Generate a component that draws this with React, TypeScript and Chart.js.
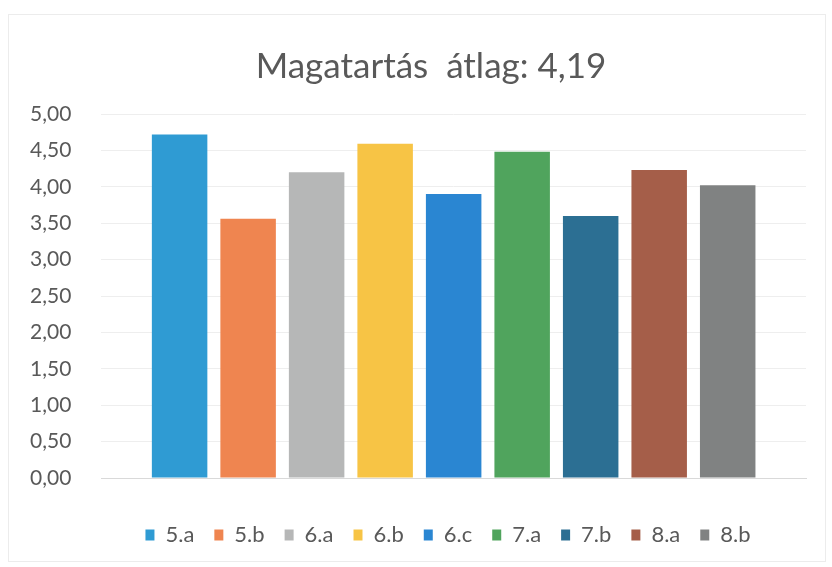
import React, { useEffect, useRef } from "react";
import { Chart, registerables } from "chart.js";

Chart.register(...registerables);

const TITLE = "Magatartás  átlag: 4,19";
const CLASSES = ["5.a", "5.b", "6.a", "6.b", "6.c", "7.a", "7.b", "8.a", "8.b"];
const VALUES = [4.72, 3.56, 4.2, 4.59, 3.9, 4.48, 3.6, 4.23, 4.02];
const COLORS = [
  "#2f9bd3",
  "#ef8550",
  "#b6b7b7",
  "#f7c445",
  "#2a86d2",
  "#50a45d",
  "#2c6f93",
  "#a55e49",
  "#808282",
];
const Y_MIN = 0;
const Y_MAX = 5;
const Y_STEP = 0.5;

const TITLE_SHIFT = 28;
const LEGEND_SHIFT = 45;

const shiftPlugin = {
  id: "shiftBlocks",
  afterLayout(chart: any) {
    const t = chart.titleBlock;
    if (t) {
      t.left += TITLE_SHIFT;
      t.right += TITLE_SHIFT;
    }
    const l = chart.legend;
    if (l) {
      l.left += LEGEND_SHIFT;
      l.right += LEGEND_SHIFT;
    }
  },
};

export default function App() {
  const canvasRef = useRef<HTMLCanvasElement | null>(null);

  useEffect(() => {
    const canvas = canvasRef.current;
    if (!canvas) return;
    const font = "Lato, 'Open Sans', sans-serif";
    const chart = new Chart(canvas, {
      type: "bar",
      data: {
        labels: [""],
        datasets: CLASSES.map((name, i) => ({
          label: name,
          data: [VALUES[i]],
          backgroundColor: COLORS[i],
          borderWidth: 0,
          categoryPercentage: 0.875,
          barPercentage: 0.81,
        })),
      },
      options: {
        responsive: false,
        animation: false,
        maintainAspectRatio: false,
        layout: { padding: { left: 0, right: 26, top: 46, bottom: 11 } },
        plugins: {
          title: {
            display: true,
            text: TITLE,
            color: "#595959",
            font: { family: font, size: 35, weight: "normal" },
            padding: { top: 0, bottom: 26 },
          },
          legend: {
            position: "bottom",
            labels: {
              color: "#595959",
              font: { family: font, size: 22 },
              boxWidth: 9,
              boxHeight: 11,
              padding: 20,
            },
          },
          tooltip: { enabled: false },
        },
        scales: {
          x: {
            grid: { display: false },
            border: { display: true, color: "#d9d9d9" },
            ticks: { display: false },
            afterFit: (scale: any) => {
              scale.height = 26;
            },
          },
          y: {
            min: Y_MIN,
            max: Y_MAX,
            ticks: {
              stepSize: Y_STEP,
              color: "#595959",
              font: { family: font, size: 21 },
              padding: 30,
              callback: (v: any) => Number(v).toFixed(2).replace(".", ","),
            },
            grid: { color: "#eeeeee", drawTicks: false },
            border: { display: false },
          },
        },
      },
      plugins: [shiftPlugin],
    });
    return () => chart.destroy();
  }, []);

  return (
    <div
      style={{
        position: "absolute",
        left: 0,
        top: 0,
        width: 832,
        height: 567,
        background: "#ffffff",
      }}
    >
      <div
        style={{
          position: "absolute",
          left: 8,
          top: 14,
          width: 816,
          height: 546,
          border: "1px solid #ececec",
        }}
      />
      <canvas
        ref={canvasRef}
        width={832}
        height={567}
        style={{ position: "absolute", left: 0, top: 0, width: 832, height: 567 }}
      />
    </div>
  );
}
